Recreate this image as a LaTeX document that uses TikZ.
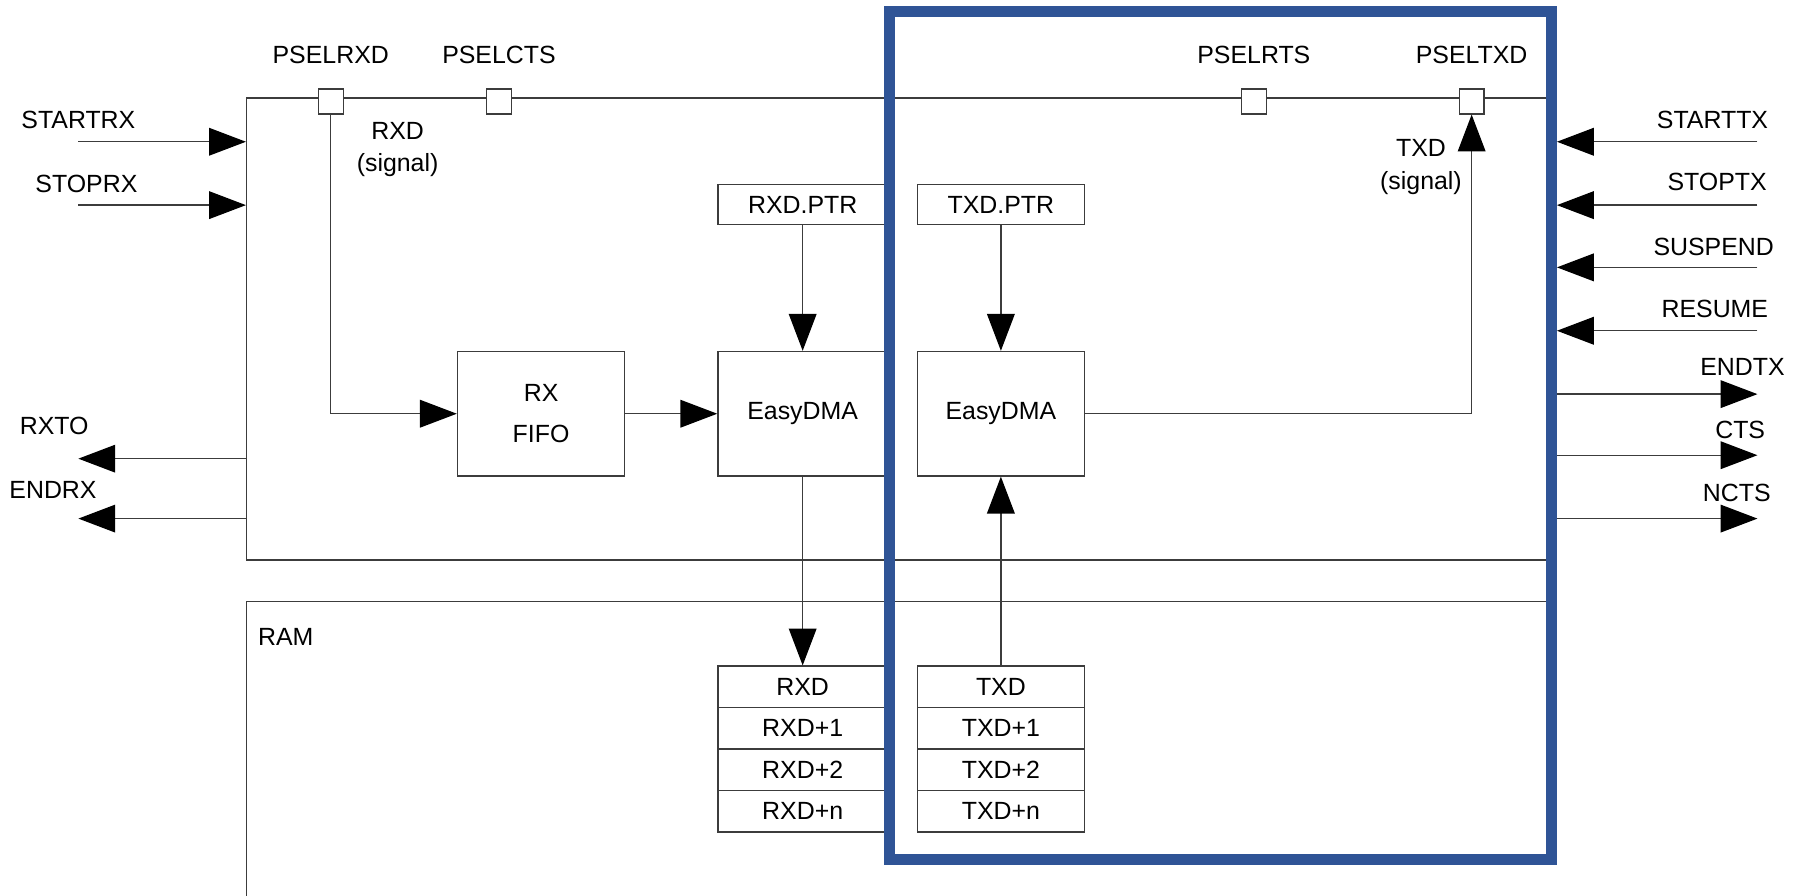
\documentclass[tikz,border=0pt]{standalone}
\usepackage{fontspec}
\setmainfont{Liberation Sans}
\usetikzlibrary{arrows.meta,fit}
\definecolor{nblue}{RGB}{47,84,150}
\definecolor{lgray}{RGB}{60,60,60}
\begin{document}
\begin{tikzpicture}[x=0.5pt,y=-0.5pt,
  every node/.style={font=\fontsize{10.8}{13}\selectfont, inner sep=0pt},
  frame/.style={draw=lgray, line width=0.6pt, inner sep=0pt},
  cell/.style={draw=lgray, line width=0.6pt, inner sep=0pt, fill=white, align=center},
  rxw/.style={minimum width=73.5pt},
  txw/.style={minimum width=72.5pt},
  ptrh/.style={minimum height=17.5pt},
  blkh/.style={minimum height=54pt},
  rowh/.style={minimum height=18pt},
  pinsq/.style={draw=lgray, line width=0.6pt, fill=white, minimum width=10.8pt, minimum height=10.8pt, inner sep=0pt},
  wire/.style={draw=lgray, line width=0.6pt},
  arr/.style={draw=lgray, line width=0.6pt, -{Triangle[length=16pt,width=12pt,color=black]}},
  blueframe/.style={draw=nblue, line width=4.8pt, inner sep=0pt}]
\useasboundingbox (0,0) rectangle (1568,777);

% main peripheral box
\node[frame, fit={(214,85)(1346,486)}] (mcu) {};
% RAM box (open at the bottom)
\draw[wire] (214,800) -- (214,522) -- (1346,522);
\node (ram) at (248,553) {RAM};

% pin select squares
\node[pinsq] (prxd) at (287,88) {};
\node[pinsq] (pcts) at (433,88) {};
\node[pinsq] (prts) at (1088,88) {};
\node[pinsq] (ptxd) at (1277,88) {};
\node (lprxd) at (287,48) {PSELRXD};
\node (lpcts) at (433,48) {PSELCTS};
\node (lprts) at (1088,48) {PSELRTS};
\node (lptxd) at (1277,48) {PSELTXD};

% inner blocks
\node[cell, txw, blkh] (fifo) at (469.5,359) {RX\\[5pt]FIFO};
\node[cell, rxw, ptrh] (rxptr) at (696.5,177.5) {RXD.PTR};
\node[cell, rxw, blkh] (rxdma) at (696.5,359) {EasyDMA};
\node[cell, txw, ptrh] (txptr) at (868.5,177.5) {TXD.PTR};
\node[cell, txw, blkh] (txdma) at (868.5,359) {EasyDMA};

% RAM arrays
\node[cell, rxw, rowh] (rx0) at (696.5,596) {RXD};
\node[cell, rxw, rowh] (rx1) at (696.5,632) {RXD+1};
\node[cell, rxw, rowh] (rx2) at (696.5,668) {RXD+2};
\node[cell, rxw, rowh] (rxn) at (696.5,704) {RXD+n};
\node[cell, txw, rowh] (tx0) at (868.5,596) {TXD};
\node[cell, txw, rowh] (tx1) at (868.5,632) {TXD+1};
\node[cell, txw, rowh] (tx2) at (868.5,668) {TXD+2};
\node[cell, txw, rowh] (txn) at (868.5,704) {TXD+n};

% signal labels
\node[align=center] (rxsig) at (345,130) {RXD\\[1pt](signal)};
\node[align=center] (txsig) at (1233,145) {TXD\\[1pt](signal)};

% internal connectors
\draw[arr] (prxd.south) |- (fifo.west);
\draw[arr] (fifo.east) -- (rxdma.west);
\draw[arr] (rxptr.south) -- (rxdma.north);
\draw[arr] (rxdma.south) -- (rx0.north);
\draw[arr] (txptr.south) -- (txdma.north);
\draw[arr] (tx0.north) -- (txdma.south);
\draw[arr] (txdma.east) -| (ptxd.south);

% left events
\coordinate (ls1) at (68,123);
\coordinate (ls2) at (68,178);
\coordinate (ls3) at (68,398);
\coordinate (ls4) at (68,450);
\node (lstartrx) at (68,104) {STARTRX};
\node (lstoprx) at (75,160) {STOPRX};
\node (lrxto) at (47,370) {RXTO};
\node (lendrx) at (46,425) {ENDRX};
\draw[arr] (ls1) -- (ls1 -| mcu.west);
\draw[arr] (ls2) -- (ls2 -| mcu.west);
\draw[arr] (ls3 -| mcu.west) -- (ls3);
\draw[arr] (ls4 -| mcu.west) -- (ls4);

% TX highlight frame
\node[blueframe, fit={(772,10)(1346,746)}] (txblk) {};

% right events
\coordinate (rs1) at (1525,123);
\coordinate (rs2) at (1525,178);
\coordinate (rs3) at (1525,232);
\coordinate (rs4) at (1525,287);
\coordinate (rs5) at (1525,342);
\coordinate (rs6) at (1525,395);
\coordinate (rs7) at (1525,450);
\coordinate (redge) at (1351,0);
\node (lstarttx) at (1486,104) {STARTTX};
\node (lstoptx) at (1490,158) {STOPTX};
\node (lsuspend) at (1487,214) {SUSPEND};
\node (lresume) at (1488,268) {RESUME};
\node (lendtx) at (1512,318) {ENDTX};
\node (lcts) at (1510,373) {CTS};
\node (lncts) at (1507,428) {NCTS};
\draw[arr] (rs1) -- (rs1 -| redge);
\draw[arr] (rs2) -- (rs2 -| redge);
\draw[arr] (rs3) -- (rs3 -| redge);
\draw[arr] (rs4) -- (rs4 -| redge);
\draw[arr] (rs5 -| redge) -- (rs5);
\draw[arr] (rs6 -| redge) -- (rs6);
\draw[arr] (rs7 -| redge) -- (rs7);
\end{tikzpicture}
\end{document}
